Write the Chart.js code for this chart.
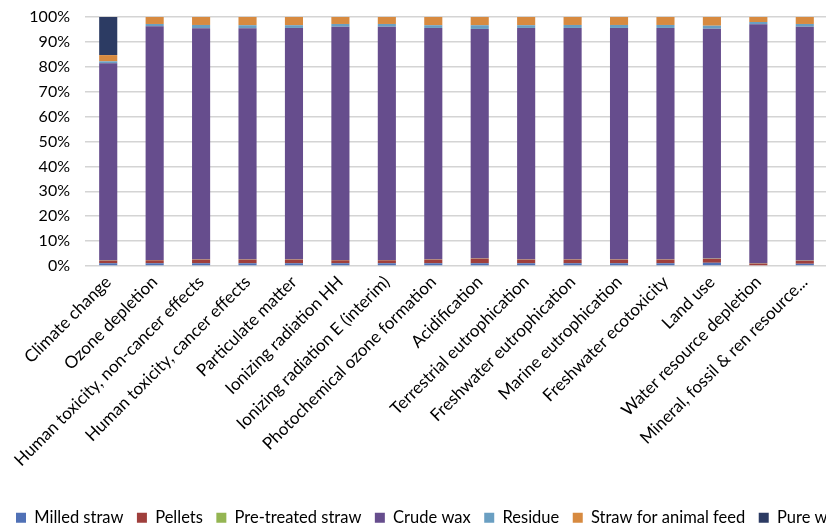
<!DOCTYPE html>
<html>
<head>
<meta charset="utf-8">
<script src="https://cdn.jsdelivr.net/npm/chart.js@4/dist/chart.umd.min.js"></script>
<style>
  html, body { margin: 0; padding: 0; background: #fff; overflow: hidden; }
  #wrap { width: 900px; height: 536px; position: relative; }
</style>
</head>
<body>
<div id="wrap"><canvas id="c" width="900" height="536"></canvas></div>
<script>
const categories = [
  "Climate change", "Ozone depletion", "Human toxicity, non-cancer effects",
  "Human toxicity, cancer effects", "Particulate matter", "Ionizing radiation HH",
  "Ionizing radiation E (interim)", "Photochemical ozone formation", "Acidification",
  "Terrestrial eutrophication", "Freshwater eutrophication", "Marine eutrophication",
  "Freshwater ecotoxicity", "Land use", "Water resource depletion",
  "Mineral, fossil & ren resource..."
];
const yTickValues = [0, 10, 20, 30, 40, 50, 60, 70, 80, 90, 100];

const milledStraw     = [1.1, 1.1, 1.1, 1.1, 1.1, 1.1, 1.1, 1.1, 1.1, 1.1, 1.1, 1.1, 1.1, 1.3, 0.3, 0.9];
const pellets         = [1.1, 1.2, 1.5, 1.5, 1.5, 1.2, 1.2, 1.5, 1.9, 1.5, 1.5, 1.5, 1.5, 1.6, 0.7, 1.2];
const preTreatedStraw = [0.1, 0.1, 0.1, 0.1, 0.1, 0.1, 0.1, 0.1, 0.1, 0.1, 0.1, 0.1, 0.1, 0.1, 0.1, 0.1];
const crudeWax        = [79.1, 93.9, 92.8, 92.8, 92.9, 93.7, 93.7, 92.9, 92.1, 92.9, 92.9, 92.9, 92.9, 92.3, 96.0, 93.9];
const residue         = [0.8, 0.9, 1.3, 1.2, 1.1, 1.1, 1.1, 1.1, 1.5, 1.1, 1.2, 1.2, 1.2, 1.2, 0.9, 1.1];
const strawFeed       = [2.5, 2.8, 3.2, 3.3, 3.3, 2.8, 2.8, 3.3, 3.3, 3.3, 3.2, 3.2, 3.2, 3.5, 2.0, 2.8];
const pureWax         = [15.3, 0, 0, 0, 0, 0, 0, 0, 0, 0, 0, 0, 0, 0, 0, 0];

const seriesNames  = ["Milled straw", "Pellets", "Pre-treated straw", "Crude wax", "Residue", "Straw for animal feed", "Pure wax"];
const seriesValues = [milledStraw, pellets, preTreatedStraw, crudeWax, residue, strawFeed, pureWax];
const seriesColors = ["#5071b6", "#9f3f3c", "#94b552", "#664d8d", "#6a9fc2", "#d78a40", "#2c3b63"];

const FONT = "Lato, 'Liberation Sans', sans-serif";

const legendShift = {
  id: 'legendShift',
  beforeDraw(chart) {
    const lg = chart.legend;
    if (lg && !lg._shifted) { lg.left += 2.5; lg.right += 2.5; lg._shifted = true; }
  }
};

new Chart(document.getElementById('c'), {
  type: 'bar',
  data: {
    labels: categories,
    datasets: seriesNames.map((n, i) => ({
      label: n,
      data: seriesValues[i],
      backgroundColor: seriesColors[i],
      borderWidth: 0,
      barPercentage: 0.39,
      categoryPercentage: 1.0
    }))
  },
  plugins: [legendShift],
  options: {
    responsive: false,
    animation: false,
    layout: { padding: { top: 17, left: 0, right: 0, bottom: 0 } },
    plugins: {
      tooltip: { enabled: false },
      legend: {
        position: 'bottom',
        align: 'start',
        labels: {
          boxWidth: 10, boxHeight: 10, padding: 13.5,
          color: '#000',
          font: { family: FONT, size: 16.5 }
        }
      }
    },
    scales: {
      x: {
        stacked: true,
        grid: { display: false, drawTicks: false },
        border: { display: false },
        ticks: {
          color: '#000', autoSkip: false, minRotation: 45, maxRotation: 45, padding: 6,
          font: { family: FONT, size: 17 }
        },
        afterFit: s => { s.height = 230; s.paddingTop = 0; s.paddingBottom = 0; }
      },
      y: {
        stacked: true,
        min: 0, max: 100,
        afterBuildTicks: s => { s.ticks = yTickValues.map(v => ({ value: v })); },
        grid: { color: '#d4d4d4', lineWidth: 1.5, drawTicks: false },
        border: { display: false },
        ticks: {
          color: '#000', padding: 15,
          font: { family: FONT, size: 16 },
          callback: v => v + '%'
        },
        afterFit: s => { s.width = 85; s.paddingTop = 0; s.paddingBottom = 0; }
      },
      yR: {
        position: 'right',
        display: true,
        grid: { display: false, drawTicks: false },
        border: { display: false },
        ticks: { display: false },
        afterFit: s => { s.width = 72; s.paddingTop = 0; s.paddingBottom = 0; }
      }
    }
  }
});
</script>
</body>
</html>
